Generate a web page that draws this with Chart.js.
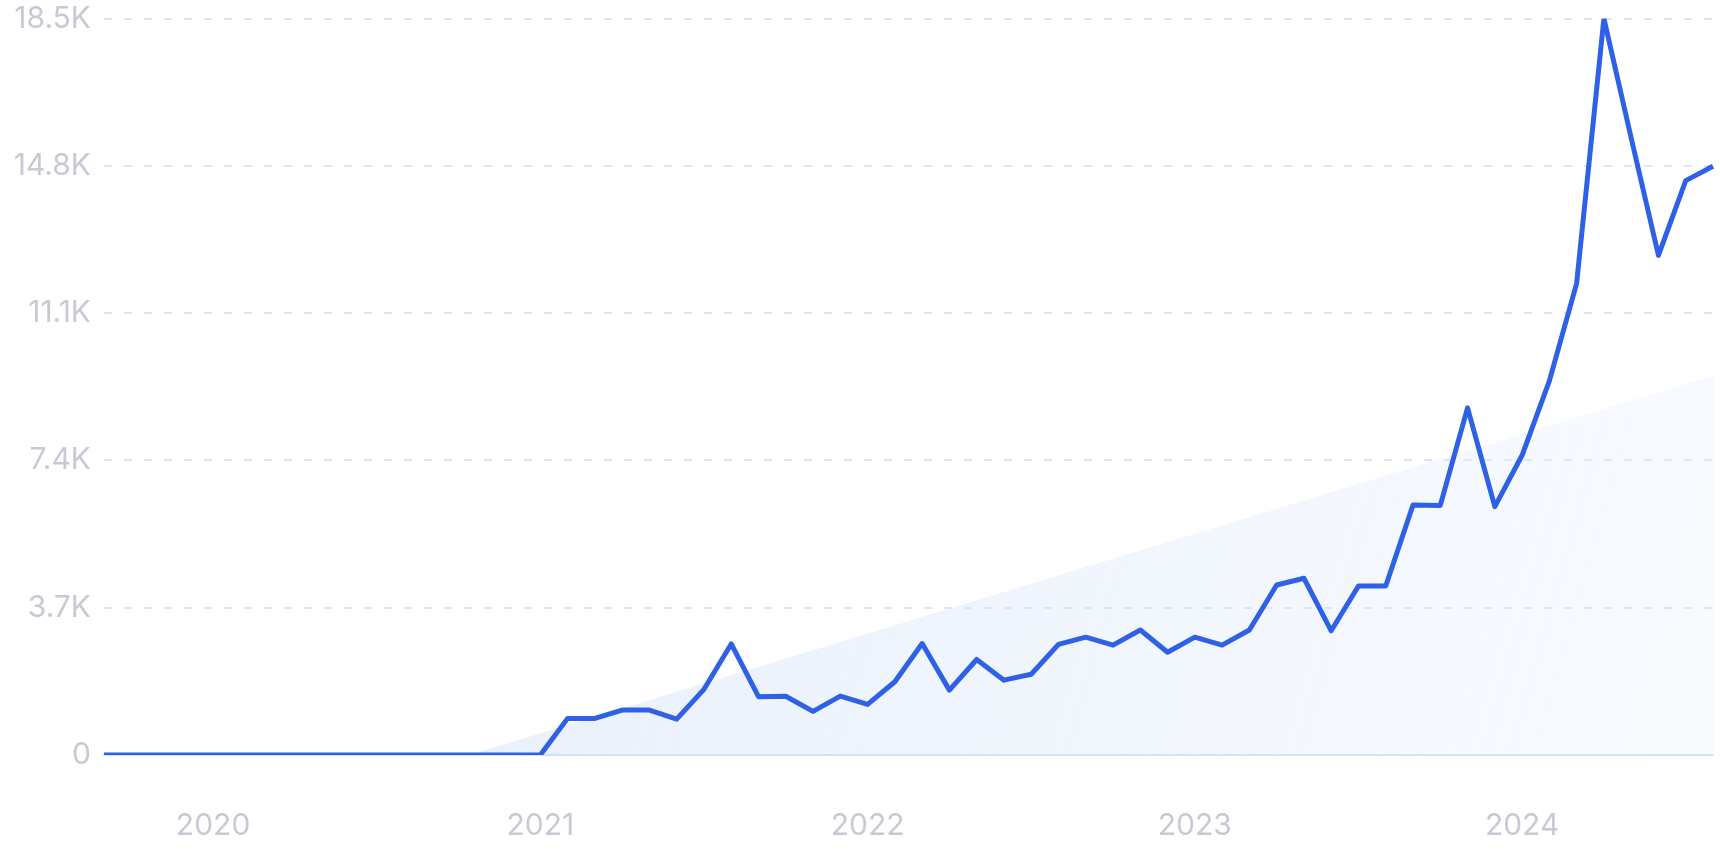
<!DOCTYPE html>
<html>
<head>
<meta charset="utf-8">
<script src="https://cdn.jsdelivr.net/npm/chart.js@4.4.1/dist/chart.umd.min.js"></script>
<style>
  html, body { margin: 0; padding: 0; background: #fff; }
  #wrap { width: 1720px; height: 860px; }
</style>
</head>
<body>
<div id="wrap"><canvas id="trendChart" width="1720" height="860"></canvas></div>
<script>
// monthly points, Sep 2019 - Aug 2024
const months = [
  'Sep 2019', 'Oct 2019', 'Nov 2019', 'Dec 2019',
  'Jan 2020', 'Feb 2020', 'Mar 2020', 'Apr 2020', 'May 2020', 'Jun 2020',
  'Jul 2020', 'Aug 2020', 'Sep 2020', 'Oct 2020', 'Nov 2020', 'Dec 2020',
  'Jan 2021', 'Feb 2021', 'Mar 2021', 'Apr 2021', 'May 2021', 'Jun 2021',
  'Jul 2021', 'Aug 2021', 'Sep 2021', 'Oct 2021', 'Nov 2021', 'Dec 2021',
  'Jan 2022', 'Feb 2022', 'Mar 2022', 'Apr 2022', 'May 2022', 'Jun 2022',
  'Jul 2022', 'Aug 2022', 'Sep 2022', 'Oct 2022', 'Nov 2022', 'Dec 2022',
  'Jan 2023', 'Feb 2023', 'Mar 2023', 'Apr 2023', 'May 2023', 'Jun 2023',
  'Jul 2023', 'Aug 2023', 'Sep 2023', 'Oct 2023', 'Nov 2023', 'Dec 2023',
  'Jan 2024', 'Feb 2024', 'Mar 2024', 'Apr 2024', 'May 2024', 'Jun 2024',
  'Jul 2024', 'Aug 2024'
];

const searches = [
  0, 0, 0, 0,
  0, 0, 0, 0, 0, 0,
  0, 0, 0, 0, 0, 0,
  0, 920, 920, 1130, 1130, 900,
  1650, 2790, 1465, 1475, 1095, 1480,
  1270, 1840, 2800, 1630, 2400, 1880,
  2030, 2780, 2960, 2760, 3140, 2580,
  2960, 2760, 3140, 4270, 4440, 3120,
  4245, 4245, 6280, 6270, 8720, 6240,
  7530, 9400, 11850, 18500, 15500, 12550,
  14430, 14790
];

// trend line: first and last month only
const trendStart = -2800;
const trendEnd = 9530;

const yTickLabels = ['0', '3.7K', '7.4K', '11.1K', '14.8K', '18.5K'];

const trend = months.map((m, i) => i === 0 ? trendStart : (i === months.length - 1 ? trendEnd : null));

const labelFont = { family: 'Inter', size: 30, weight: '400' };
const labelColor = '#c8c9d4';

function trendFill(context) {
    const chart = context.chart;
    const area = chart.chartArea;
    if (!area) return 'rgba(0,0,0,0)';
    const g = chart.ctx.createLinearGradient(area.left + 360, area.top + 380, area.right, area.bottom);
    g.addColorStop(0, 'rgba(205,223,248,0.48)');
    g.addColorStop(1, 'rgba(228,236,252,0.25)');
    return g;
}

const ctx = document.getElementById('trendChart').getContext('2d');
new Chart(ctx, {
    type: 'line',
    data: {
        labels: months,
        datasets: [{
            data: searches,
            borderColor: '#2f61e6',
            borderWidth: 5,
            borderJoinStyle: 'round',
            pointRadius: 0,
            tension: 0,
            fill: false
        }, {
            data: trend,
            spanGaps: true,
            borderWidth: 0,
            borderColor: 'rgba(0,0,0,0)',
            backgroundColor: trendFill,
            pointRadius: 0,
            tension: 0,
            fill: 'origin'
        }]
    },
    options: {
        responsive: false,
        animation: false,
        devicePixelRatio: 1,
        layout: { padding: { top: 0, right: 7, bottom: 16, left: 0 } },
        plugins: {
            legend: { display: false },
            tooltip: { enabled: false }
        },
        scales: {
            x: {
                afterFit: function(scale) {
                    scale.height = 89;
                    scale.paddingLeft = 0;
                    scale.paddingRight = 0;
                },
                grid: { display: false, drawTicks: false },
                border: { display: true, color: '#d3e0f8', width: 2 },
                ticks: {
                    autoSkip: false,
                    maxRotation: 0,
                    padding: 53,
                    color: labelColor,
                    font: labelFont,
                    callback: function(value, index) {
                        const m = months[index];
                        return m.startsWith('Jan') ? m.slice(4) : '';
                    }
                }
            },
            y: {
                min: 0,
                max: 18500,
                afterFit: function(scale) {
                    scale.width = 104;
                    scale.paddingTop = 18.6;
                    scale.paddingBottom = 0;
                },
                grid: {
                    drawTicks: false,
                    lineWidth: 2,
                    color: function(c) { return c.tick && c.tick.value === 0 ? 'rgba(0,0,0,0)' : '#dae5fb'; }
                },
                border: { display: false, dash: [8, 12] },
                ticks: {
                    stepSize: 3700,
                    padding: 13,
                    color: labelColor,
                    font: labelFont,
                    callback: function(value, index) { return yTickLabels[index]; }
                }
            }
        }
    }
});
</script>
</body>
</html>
